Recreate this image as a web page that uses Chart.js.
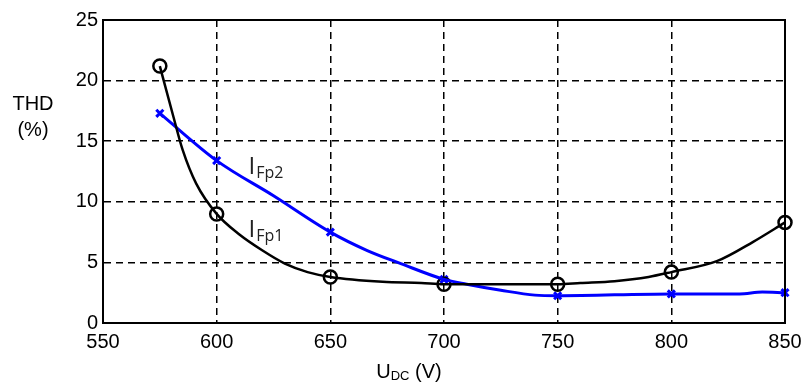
<!DOCTYPE html>
<html>
<head>
<meta charset="utf-8">
<script src="https://cdn.jsdelivr.net/npm/chart.js@4"></script>
<style>
  html, body { margin: 0; padding: 0; background: #fff; }
  #wrap { width: 805px; height: 385px; }
</style>
</head>
<body>
<div id="wrap"><canvas id="thdChart" width="805" height="385"></canvas></div>
<script>
// measured points (markers)
const udc = [575, 600, 650, 700, 750, 800, 850];
const thdFp1 = [21.2, 9.0, 3.8, 3.2, 3.2, 4.2, 8.3];
const thdFp2 = [17.3, 13.4, 7.5, 3.6, 2.25, 2.4, 2.5];

// curve shapes
const fp1CurveU = [575, 581, 585, 591, 600, 610, 620, 630, 640, 650, 673, 690, 700, 725, 750, 760, 775, 790, 800, 820, 836, 850];
const fp1CurveThd = [21.2, 17.0, 14.3, 11.5, 9.0, 7.3, 6.0, 4.9, 4.2, 3.8, 3.4, 3.3, 3.2, 3.2, 3.2, 3.3, 3.45, 3.8, 4.2, 5.1, 6.7, 8.3];
const fp2CurveU = [575, 600, 625, 650, 666, 681, 700, 710, 725, 740, 750, 800, 830, 840, 850];
const fp2CurveThd = [17.3, 13.4, 10.5, 7.5, 6.0, 4.9, 3.6, 3.2, 2.7, 2.3, 2.25, 2.4, 2.4, 2.55, 2.5];

const xTicks = [550, 600, 650, 700, 750, 800, 850];
const yTicks = [0, 5, 10, 15, 20, 25];

const toXY = (xs, ys) => xs.map((x, i) => ({ x: x, y: ys[i] }));

const sans = "'Liberation Sans', Arial, sans-serif";
const tickFont = { family: sans, size: 20 };

// rahmen + beschriftungen
const decorations = {
    id: 'decorations',
    afterDraw(chart) {
        const { ctx, chartArea: a, scales } = chart;
        ctx.save();
        ctx.strokeStyle = '#000';
        ctx.lineWidth = 2;
        ctx.strokeRect(a.left, a.top, a.right - a.left, a.bottom - a.top);

        ctx.fillStyle = '#000';
        ctx.textAlign = 'center';
        ctx.textBaseline = 'middle';
        ctx.font = '20px ' + sans;
        ctx.fillText('THD', 33, 104);
        ctx.fillText('(%)', 33, 130);

        // x title U_DC (V)
        const cx = 409;
        const y = 372;
        ctx.textAlign = 'left';
        ctx.font = '20px ' + sans;
        const wU = ctx.measureText('U').width;
        ctx.font = '13px ' + sans;
        const wDC = ctx.measureText('DC').width;
        ctx.font = '20px ' + sans;
        const wV = ctx.measureText(' (V)').width;
        const x0 = cx - (wU + wDC + wV) / 2;
        ctx.fillText('U', x0, y);
        ctx.font = '13px ' + sans;
        ctx.fillText('DC', x0 + wU, y + 4);
        ctx.font = '20px ' + sans;
        ctx.fillText(' (V)', x0 + wU + wDC, y);

        // curve labels
        const lab = (sub, u, v) => {
            const px = scales.x.getPixelForValue(u);
            const py = scales.y.getPixelForValue(v);
            ctx.fillStyle = '#222';
            ctx.textBaseline = 'alphabetic';
            ctx.font = "24px 'Open Sans', sans-serif";
            ctx.fillText('I', px, py);
            const wi = ctx.measureText('I').width;
            ctx.font = "16px 'Open Sans', sans-serif";
            ctx.fillText(sub, px + wi + 1, py + 4);
        };
        lab('Fp2', 614, 12.3);
        lab('Fp1', 614, 7.1);
        ctx.restore();
    }
};

new Chart(document.getElementById('thdChart'), {
    type: 'line',
    data: {
        datasets: [
            {
                label: 'IFp1 curve',
                data: toXY(fp1CurveU, fp1CurveThd),
                borderColor: '#000', borderWidth: 2.5, clip: false,
                pointRadius: 0, cubicInterpolationMode: 'monotone', fill: false
            },
            {
                label: 'IFp2 curve',
                data: toXY(fp2CurveU, fp2CurveThd),
                borderColor: '#0000ff', borderWidth: 3, clip: false,
                pointRadius: 0, cubicInterpolationMode: 'monotone', fill: false
            },
            {
                label: 'IFp1',
                data: toXY(udc, thdFp1),
                showLine: false, clip: false,
                pointStyle: 'circle', pointRadius: 6.5, pointBorderWidth: 2.5,
                pointBorderColor: '#000', pointBackgroundColor: 'rgba(0,0,0,0)'
            },
            {
                label: 'IFp2',
                data: toXY(udc, thdFp2),
                showLine: false, clip: false,
                pointStyle: 'crossRot', pointRadius: 5, pointBorderWidth: 3,
                pointBorderColor: '#0000ff'
            }
        ]
    },
    options: {
        responsive: false,
        animation: false,
        layout: { padding: { top: 20, right: 20, left: 0, bottom: 0 } },
        plugins: { legend: { display: false }, tooltip: { enabled: false } },
        scales: {
            x: {
                type: 'linear', min: 550, max: 850,
                afterBuildTicks: (s) => { s.ticks = xTicks.map(v => ({ value: v })); },
                afterFit: (s) => { s.height = 62; s.paddingLeft = 0; s.paddingRight = 0; },
                ticks: { color: '#000', font: tickFont, padding: 7 },
                grid: { color: '#000', lineWidth: 1.5, drawTicks: false },
                border: { display: true, color: '#000', width: 2, dash: [7, 5] }
            },
            y: {
                min: 0, max: 25,
                afterBuildTicks: (s) => { s.ticks = yTicks.map(v => ({ value: v })); },
                afterFit: (s) => { s.width = 103; s.paddingTop = 0; s.paddingBottom = 0; },
                ticks: { color: '#000', font: tickFont, padding: 5 },
                grid: { color: '#000', lineWidth: 1.5, drawTicks: false },
                border: { display: true, color: '#000', width: 2, dash: [7, 5] }
            }
        }
    },
    plugins: [decorations]
});
</script>
</body>
</html>
